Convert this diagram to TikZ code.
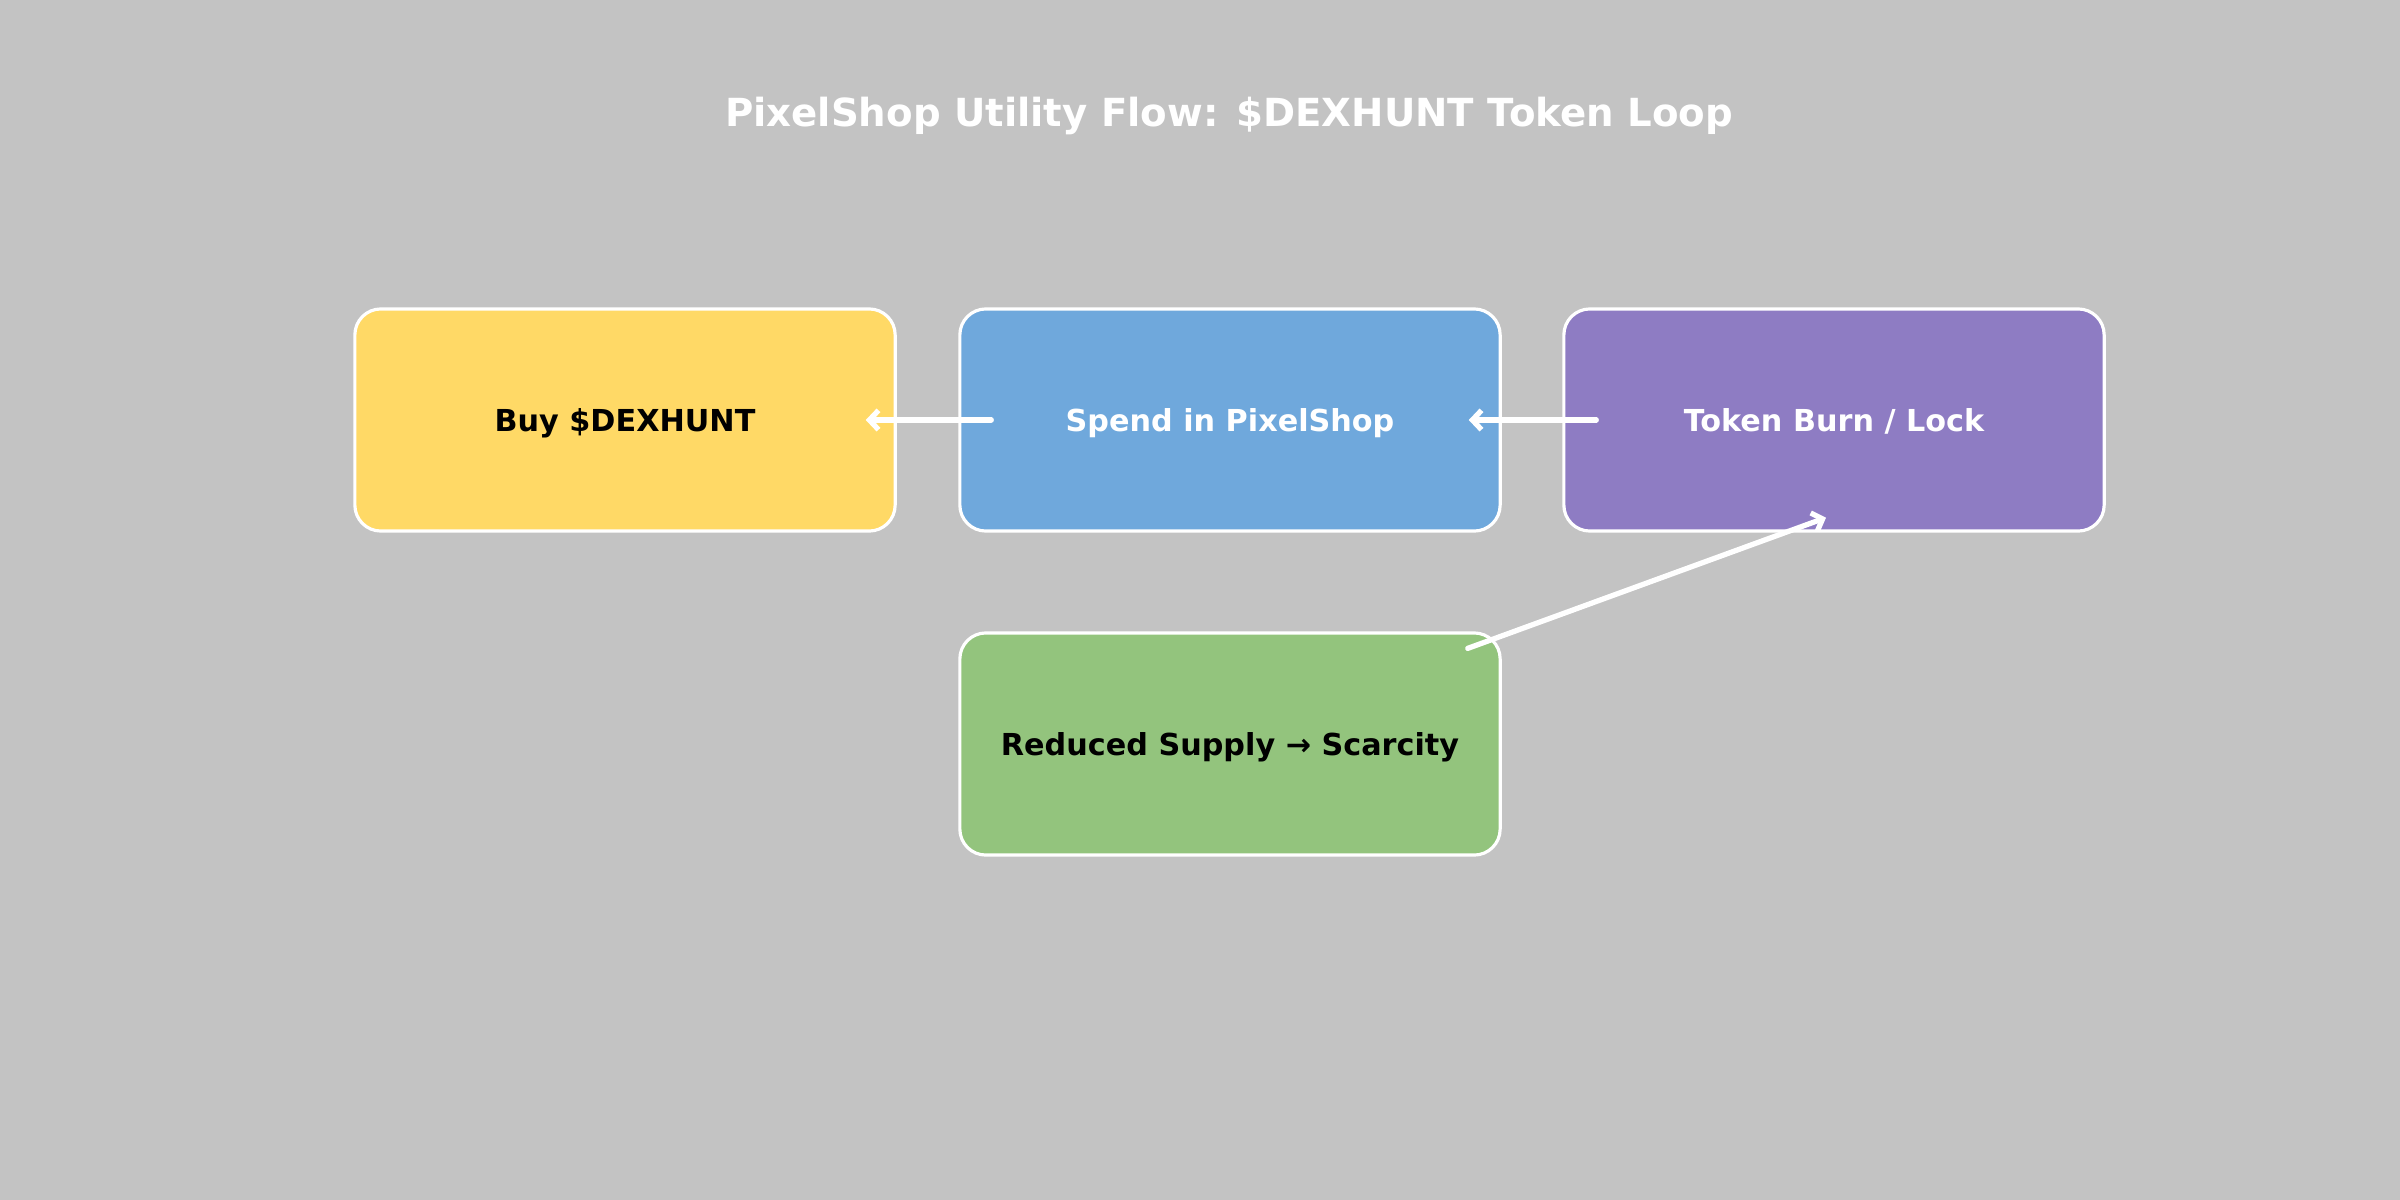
\documentclass[tikz,border=0pt]{standalone}
\usepackage{fontspec}
\setmainfont{DejaVu Sans}
\usetikzlibrary{arrows.meta,calc}
\definecolor{bg}{HTML}{C3C3C3}
\definecolor{cyellow}{HTML}{FFD966}
\definecolor{cblue}{HTML}{6FA8DC}
\definecolor{cpurple}{HTML}{8E7CC3}
\definecolor{cgreen}{HTML}{93C47D}
\tikzset{
  px/.style={x=0.01cm,y=-0.01cm},
  box/.style={draw=white, line width=0.9pt, rounded corners=0.26cm, minimum width=5.4cm, minimum height=2.22cm, font=\fontsize{8.6}{10}\selectfont\bfseries, inner sep=0pt, text height=1.6ex, text depth=0.4ex},
  arr/.style={draw=white, line width=1.5pt, line cap=round, -{Straight Barb[length=2.6pt,width=5.5pt,line width=1.5pt]}}
}
\begin{document}
\begin{tikzpicture}[px]
\fill[bg] (0,0) rectangle (2400,1200);
\useasboundingbox (0,0) rectangle (2400,1200);
\node[text=white, font=\fontsize{11}{13}\selectfont\bfseries] (title) at (1229,116) {PixelShop Utility Flow: \$DEXHUNT Token Loop};
\node[box, fill=cyellow, text=black] (buy) at (625,420) {Buy \$DEXHUNT};
\node[box, fill=cblue, text=white] (spend) at (1230,420) {Spend in PixelShop};
\node[box, fill=cpurple, text=white] (burn) at (1834,420) {Token Burn / Lock};
\node[box, fill=cgreen, text=black] (supply) at (1230,744) {Reduced Supply → Scarcity};
\draw[arr] ($(spend.west)+(33,0)$) -- ($(buy.east)+(-31,0)$);
\draw[arr] ($(burn.west)+(34,0)$) -- ($(spend.east)+(-33,0)$);
\draw[arr] ($(supply.north east)+(-34,17)$) -- ($(burn.south)+(-8,-15)$);
\end{tikzpicture}
\end{document}
